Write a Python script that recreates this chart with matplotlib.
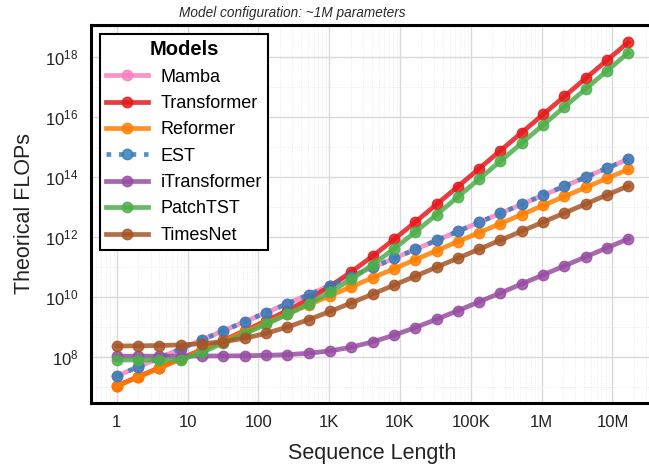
import matplotlib
matplotlib.use('Agg')
from matplotlib import pyplot as plt
from matplotlib.ticker import FixedLocator, FixedFormatter, LogLocator, NullFormatter
import numpy as np

plt.rcParams['font.family'] = ['Liberation Sans', 'DejaVu Sans']
plt.rcParams['mathtext.default'] = 'regular'

## Sequence lengths (powers of two, 1 .. 16M)
seq_len = [1, 2, 4, 8, 16, 32, 64, 128, 256, 512, 1024, 2048, 4096, 8192, 16384,
           32768, 65536, 131072, 262144, 524288, 1048576, 2097152, 4194304,
           8388608, 16777216]

## FLOPs
mamba = [2.35e7, 4.7e7, 9.4e7, 1.88e8, 3.76e8, 7.52e8, 1.5e9, 3.01e9, 6.02e9, 1.2e10,
         2.41e10, 4.81e10, 9.63e10, 1.93e11, 3.85e11, 7.7e11, 1.54e12, 3.08e12,
         6.16e12, 1.23e13, 2.46e13, 4.93e13, 9.86e13, 1.97e14, 3.94e14]
transformer = [1.1e7, 2.2e7, 4.42e7, 8.87e7, 1.79e8, 3.63e8, 7.49e8, 1.59e9, 3.54e9,
               8.51e9, 2.28e10, 6.86e10, 2.3e11, 8.28e11, 3.13e12, 1.22e13, 4.8e13,
               1.9e14, 7.59e14, 3.03e15, 1.21e16, 4.84e16, 1.94e17, 7.74e17, 3.1e18]
reformer = [1.07e7, 2.14e7, 4.28e7, 8.56e7, 1.71e8, 3.42e8, 6.85e8, 1.37e9, 2.74e9,
            5.48e9, 1.1e10, 2.19e10, 4.38e10, 8.77e10, 1.75e11, 3.51e11, 7.01e11,
            1.4e12, 2.8e12, 5.61e12, 1.12e13, 2.24e13, 4.49e13, 8.98e13, 1.8e14]
est = [2.35e7, 4.7e7, 9.4e7, 1.88e8, 3.76e8, 7.52e8, 1.5e9, 3.01e9, 6.02e9, 1.2e10,
       2.41e10, 4.81e10, 9.63e10, 1.93e11, 3.85e11, 7.7e11, 1.54e12, 3.08e12,
       6.16e12, 1.23e13, 2.46e13, 4.93e13, 9.86e13, 1.97e14, 3.94e14]
itransformer = [1.07e8, 1.07e8, 1.07e8, 1.07e8, 1.08e8, 1.09e8, 1.1e8, 1.14e8, 1.2e8,
                1.34e8, 1.6e8, 2.13e8, 3.2e8, 5.33e8, 9.59e8, 1.81e9, 3.51e9, 6.92e9,
                1.37e10, 2.74e10, 5.46e10, 1.09e11, 2.18e11, 4.36e11, 8.72e11]
patchtst = [8.0e7, 8.0e7, 8.0e7, 8.0e7, 1.45e8, 2.93e8, 5.96e8, 1.23e9, 2.62e9, 5.89e9,
            1.44e10, 3.9e10, 1.19e11, 4.03e11, 1.46e12, 5.56e12, 2.16e13, 8.54e13,
            3.39e14, 1.35e15, 5.4e15, 2.16e16, 8.62e16, 3.45e17, 1.38e18]
timesnet = [2.33e8, 2.36e8, 2.42e8, 2.54e8, 2.78e8, 3.26e8, 4.22e8, 6.14e8, 9.98e8,
            1.77e9, 3.3e9, 6.37e9, 1.25e10, 2.48e10, 4.94e10, 9.85e10, 1.97e11,
            3.93e11, 7.87e11, 1.57e12, 3.15e12, 6.29e12, 1.26e13, 2.52e13, 5.03e13]

x_ticks = [1, 10, 100, 1e3, 1e4, 1e5, 1e6, 1e7]
x_tick_labels = ['1', '10', '100', '1K', '10K', '100K', '1M', '10M']
y_ticks = [1e8, 1e10, 1e12, 1e14, 1e16, 1e18]
y_tick_labels = [r'$10^{8}$', r'$10^{10}$', r'$10^{12}$', r'$10^{14}$', r'$10^{16}$', r'$10^{18}$']

fig = plt.figure(figsize=(6.49, 4.68), dpi=100)
# right spine falls just outside the picture, as in the original crop
ax = fig.add_axes([0.140, 0.139, 0.8675, 0.808])

kw = dict(marker='o', markersize=7.5, linewidth=3.4, alpha=0.85)
ax.plot(seq_len, mamba, color='#f781bf', label='Mamba', **kw)
ax.plot(seq_len, transformer, color='#e41a1c', label='Transformer', **kw)
ax.plot(seq_len, reformer, color='#ff7f00', label='Reformer', **kw)
ax.plot(seq_len, est, color='#377eb8', linestyle=':', label='EST', **kw)
ax.plot(seq_len, itransformer, color='#984ea3', label='iTransformer', **kw)
ax.plot(seq_len, patchtst, color='#4daf4a', label='PatchTST', **kw)
ax.plot(seq_len, timesnet, color='#a65628', label='TimesNet', **kw)

ax.set_xscale('log')
ax.set_yscale('log')
ax.set_xlim(10 ** -0.367, 10 ** 7.585)
ax.set_ylim(10 ** 6.47, 10 ** 19.07)

ax.xaxis.set_major_locator(FixedLocator(x_ticks))
ax.xaxis.set_major_formatter(FixedFormatter(x_tick_labels))
ax.xaxis.set_minor_locator(LogLocator(base=10, subs=np.arange(2, 10)))
ax.xaxis.set_minor_formatter(NullFormatter())
ax.yaxis.set_major_locator(FixedLocator(y_ticks))
ax.yaxis.set_major_formatter(FixedFormatter(y_tick_labels))
ax.yaxis.set_minor_locator(FixedLocator([1e7, 1e9, 1e11, 1e13, 1e15, 1e17, 1e19]))
ax.yaxis.set_minor_formatter(NullFormatter())

ax.grid(True, which='major', color='#d9d9d9', linewidth=1.0)
ax.grid(True, which='minor', color='#e6e6e6', linewidth=0.6, linestyle=':')
ax.set_axisbelow(True)
ax.tick_params(which='both', length=0, labelsize=12, colors='#222222', pad=9)

for s in ax.spines.values():
    s.set_linewidth(2.2)
    s.set_color('black')

ax.set_xlabel('Sequence Length', fontsize=15.5, color='#222222', labelpad=9)
ax.set_ylabel('Theorical FLOPs', fontsize=15.5, color='#222222', labelpad=7)
fig.text(0.45, 0.973, 'Model configuration: ~1M parameters', fontsize=9.8,
         style='italic', color='#2a2a2a', ha='center', va='center')

leg = ax.legend(loc='upper left', title='Models', fontsize=13, title_fontsize=14.5,
                frameon=True, fancybox=False, edgecolor='black', framealpha=1,
                handlelength=2.3, handletextpad=0.7, borderpad=0.35,
                labelspacing=0.52, bbox_to_anchor=(0.0, 1.0), borderaxespad=0.5)
leg.get_title().set_fontweight('bold')
leg.get_frame().set_linewidth(1.5)

plt.savefig('out.png', dpi=100)
plt.close()
